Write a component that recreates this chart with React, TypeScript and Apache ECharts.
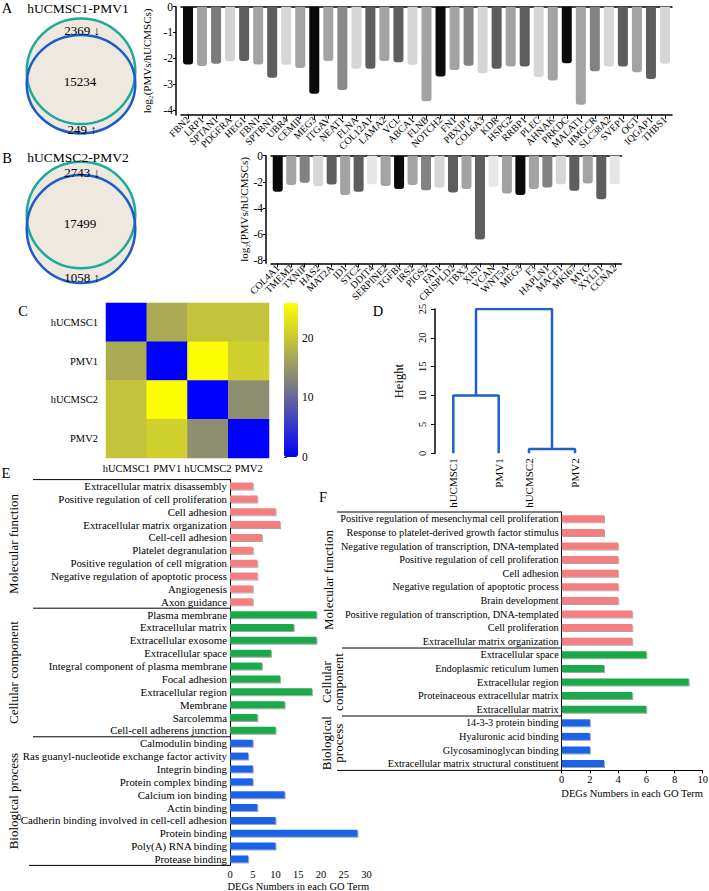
import React, { useEffect, useRef } from "react";
import * as echarts from "echarts";

const FONT = "Liberation Serif";

// ---------- Panel A / B data ----------
const vennA = [2369, 15234, 249];
const vennB = [2743, 17499, 1058];

const genesA = ["FBN2","LRP1","SPTAN1","PDGFRA","HEG1","FBN1","SPTBN1","UBR4","CEMIP","MEG3","ITGAV","NEAT1","FLNA","COL12A1","LAMA2","VCL","ABCA1","FLNB","NOTCH2","FN1","PBXIP1","COL6A3","KDR","HSPG2","RRBP1","PLEC","AHNAK","PRKDC","MALAT1","HMGCR","SLC38A2","SVEP1","OGT","IQGAP1","THBS1"];
const valuesA = [-2.24,-2.3,-2.21,-2.12,-2.11,-2.24,-2.76,-2.25,-2.38,-3.38,-2.11,-3.23,-2.41,-2.41,-2.11,-2.15,-2.25,-3.67,-2.71,-2.45,-2.29,-2.58,-2.41,-2.32,-2.32,-2.73,-2.86,-2.19,-3.8,-2.5,-2.32,-2.32,-2.54,-2.8,-2.21];
const shadesA = ["#0a0a0a","#a3a3a3","#7c7c7c","#d2d2d2","#5e5e5e","#a3a3a3","#5e5e5e","#d6d6d6","#a3a3a3","#0a0a0a","#a3a3a3","#8a8a8a","#d6d6d6","#5e5e5e","#a3a3a3","#5e5e5e","#d6d6d6","#a3a3a3","#0a0a0a","#a3a3a3","#828282","#d6d6d6","#5e5e5e","#a3a3a3","#5e5e5e","#d6d6d6","#a3a3a3","#0a0a0a","#a3a3a3","#828282","#d6d6d6","#5e5e5e","#a3a3a3","#5e5e5e","#d6d6d6"];

const genesB = ["COL4A1","TMEM2","TXNIP","HAS2","MAT2A","ID1","STC2","DDIT4","SERPINE2","TGFBI","IRS2","PIGS2","FAT1","CRISPLD2","TBX3","XIST","VCAN","WNT5A","MEG3","F3","HAPLN1","MACF1","MKI67","MYC","XYLT1","CCNA2"];
const valuesB = [-2.77,-2.25,-2.07,-2.33,-2.2,-3.02,-2.77,-2.18,-2.33,-2.56,-2.25,-2.64,-2.46,-2.82,-2.56,-6.43,-2.38,-2.9,-3.02,-2.56,-2.43,-2.18,-2.69,-2.13,-3.33,-2.18];
const shadesB = ["#0a0a0a","#a3a3a3","#828282","#d6d6d6","#5e5e5e","#a3a3a3","#5e5e5e","#e6e6e6","#a3a3a3","#0a0a0a","#a3a3a3","#828282","#d6d6d6","#5e5e5e","#a3a3a3","#5e5e5e","#e6e6e6","#a3a3a3","#0a0a0a","#a3a3a3","#828282","#d6d6d6","#5e5e5e","#a3a3a3","#5e5e5e","#e6e6e6"];

// ---------- Panel C / D data ----------
const samples = ["hUCMSC1", "PMV1", "hUCMSC2", "PMV2"];
const distRows = [
  [0, 16.9, 19.6, 19.6],
  [16.9, 0, 25.5, 20.8],
  [19.6, 25.5, 0, 13.8],
  [19.6, 20.8, 13.8, 0],
];
const colorbarTicks = [0, 10, 20];
const leafPos = [18.3, 63.7, 94, 140];
const mergeHeights = [10, 0.75, 25];
const heightTicks = [0, 5, 10, 15, 20, 25];

// ---------- Panel E data ----------
const groupNamesE = ["Molecular function", "Cellular component", "Biological process"];
const termsE1 = ["Extracellular matrix disassembly","Positive regulation of cell proliferation","Cell adhesion","Extracellular matrix organization","Cell-cell adhesion","Platelet degranulation","Positive regulation of cell migration","Negative regulation of apoptotic process","Angiogenesis","Axon guidance"];
const countsE1 = [5, 6, 10, 11, 7, 5, 6, 6, 5, 5];
const termsE2 = ["Plasma membrane","Extracellular matrix","Extracellular exosome","Extracellular space","Integral component of plasma membrane","Focal adhesion","Extracellular region","Membrane","Sarcolemma","Cell-cell adherens junction"];
const countsE2 = [19, 14, 19, 9, 7, 11, 18, 12, 6, 10];
const termsE3 = ["Calmodulin binding","Ras guanyl-nucleotide exchange factor activity","Integrin binding","Protein complex binding","Calcium ion binding","Actin binding","Cadherin binding involved in cell-cell adhesion","Protein binding","Poly(A) RNA binding","Protease binding"];
const countsE3 = [5, 4, 5, 5, 12, 6, 10, 28, 10, 4];
const ticksE = [0, 5, 10, 15, 20, 25, 30];

// ---------- Panel F data ----------
const termsF1 = ["Positive regulation of mesenchymal cell proliferation","Response to platelet-derived growth factor stimulus","Negative regulation of transcription, DNA-templated","Positive regulation of cell proliferation","Cell adhesion","Negative regulation of apoptotic process","Brain development","Positive regulation of transcription, DNA-templated","Cell proliferation","Extracellular matrix organization"];
const countsF1 = [3, 3, 4, 4, 4, 4, 4, 5, 5, 5];
const termsF2 = ["Extracellular space","Endoplasmic reticulum lumen","Extracellular region","Proteinaceous extracellular matrix","Extracellular matrix"];
const countsF2 = [6, 3, 9, 5, 6];
const termsF3 = ["14-3-3 protein binding","Hyaluronic acid binding","Glycosaminoglycan binding","Extracellular matrix structural constituent"];
const countsF3 = [2, 2, 2, 3];
const ticksF = [0, 2, 4, 6, 8, 10];

const GROUP_COLORS = ["#f47f80", "#1aa94b", "#1f62e6"];

function buildOption(): any {
  const black = "#000";
  const txt = (s: any) => ({ fontFamily: FONT, color: black, ...s });

  // layout constants
  const gA = { left: 181, top: 6.7, width: 491, height: 108.3 };
  const gB = { left: 271, top: 155.7, width: 350.5, height: 107.6 };
  const gC = { left: 106, top: 303, width: 163, height: 155 };
  const gCb = { left: 284, top: 303, width: 14, height: 154 };
  const gD = { left: 435, top: 309, width: 165, height: 144.3 };
  const rowE = 12.86;
  const gE = { left: 230, top: 479.6, width: 136.5, height: rowE * 30 };
  const rowF = 13.6;
  const gF = { left: 561.7, top: 512, width: 141, height: rowF * 19 };

  const termsE = [...termsE1, ...termsE2, ...termsE3];
  const dataE = [
    ...countsE1.map((v) => ({ value: v, itemStyle: { color: GROUP_COLORS[0] } })),
    ...countsE2.map((v) => ({ value: v, itemStyle: { color: GROUP_COLORS[1] } })),
    ...countsE3.map((v) => ({ value: v, itemStyle: { color: GROUP_COLORS[2] } })),
  ];
  const termsF = [...termsF1, ...termsF2, ...termsF3];
  const dataF = [
    ...countsF1.map((v) => ({ value: v, itemStyle: { color: GROUP_COLORS[0] } })),
    ...countsF2.map((v) => ({ value: v, itemStyle: { color: GROUP_COLORS[1] } })),
    ...countsF3.map((v) => ({ value: v, itemStyle: { color: GROUP_COLORS[2] } })),
  ];

  const heatData: any[] = [];
  distRows.forEach((row, yi) => row.forEach((v, xi) => heatData.push([xi, yi, v])));

  const c0 = (leafPos[0] + leafPos[1]) / 2;
  const c1 = (leafPos[2] + leafPos[3]) / 2;
  const dendroSegs = [
    [[leafPos[0], 0], [leafPos[0], mergeHeights[0]], [leafPos[1], mergeHeights[0]], [leafPos[1], 0]],
    [[leafPos[2], 0], [leafPos[2], mergeHeights[1]], [leafPos[3], mergeHeights[1]], [leafPos[3], 0]],
    [[c0, mergeHeights[0]], [c0, mergeHeights[2]], [c1, mergeHeights[2]], [c1, mergeHeights[1]]],
  ];

  const barShadow = { shadowColor: "rgba(0,0,0,0.35)", shadowBlur: 1, shadowOffsetX: 1, shadowOffsetY: 1 };

  const grids = [gA, gB, gC, gCb, gD, gE, gF].map((g) => ({ ...g, containLabel: false, outerBoundsMode: "none" }));

  const hidden = { axisLine: { show: false }, axisTick: { show: false }, axisLabel: { show: false }, splitLine: { show: false } };

  const barXAxis = (gi: number, data: string[]) => ({
    gridIndex: gi, type: "category", data, position: "bottom",
    axisLine: { onZero: false, lineStyle: { color: black, width: 1.5 } },
    axisTick: { show: true, alignWithLabel: true, length: 4, lineStyle: { color: black } },
    axisLabel: txt({ interval: 0, rotate: 45, fontSize: 10, margin: 3 }),
    splitLine: { show: false },
  });
  const topLine = (gi: number, data: string[]) => ({
    gridIndex: gi, type: "category", data, position: "top",
    axisLine: { show: true, onZero: false, lineStyle: { color: black, width: 1.5 } },
    axisTick: { show: false }, axisLabel: { show: false }, splitLine: { show: false },
  });
  const barYAxis = (gi: number, min: number, ticks: number[]) => ({
    gridIndex: gi, type: "value", min, max: 0, offset: 5,
    axisLine: { show: true, lineStyle: { color: black, width: 1.5 } },
    axisTick: { show: true, length: 3, customValues: ticks, lineStyle: { color: black } },
    axisLabel: txt({ customValues: ticks, fontSize: 11.5, margin: 3 }),
    splitLine: { show: false },
    name: "log₂(PMVs/hUCMSCs)", nameLocation: "middle", nameRotate: 90, nameGap: 17,
    nameTextStyle: txt({ fontSize: 11 }),
  });

  const xAxis: any[] = [
    barXAxis(0, genesA),
    topLine(0, genesA),
    barXAxis(1, genesB),
    topLine(1, genesB),
    {
      gridIndex: 2, type: "category", data: samples,
      axisLine: { show: false }, axisTick: { show: false }, splitLine: { show: false },
      axisLabel: txt({ interval: 0, fontSize: 10.5, margin: 5 }),
    },
    { gridIndex: 3, type: "value", min: 0, max: 1, ...hidden },
    {
      gridIndex: 4, type: "value", min: 0, max: 165,
      axisLine: { show: false }, axisTick: { show: false }, splitLine: { show: false },
      axisLabel: txt({
        customValues: leafPos, rotate: 90, fontSize: 11, margin: 5,
        formatter: (v: number) => {
          let best = 0;
          leafPos.forEach((p, i) => { if (Math.abs(p - v) < Math.abs(leafPos[best] - v)) best = i; });
          return samples[best];
        },
      }),
    },
    {
      gridIndex: 5, type: "value", min: 0, max: 30,
      axisLine: { show: false }, axisTick: { show: false }, splitLine: { show: false },
      axisLabel: txt({ customValues: ticksE, fontSize: 10.5, margin: 4 }),
      name: "DEGs Numbers in each GO Term", nameLocation: "middle", nameGap: 16,
      nameTextStyle: txt({ fontSize: 10.5 }),
    },
    {
      gridIndex: 6, type: "value", min: 0, max: 10,
      axisLine: { show: true, lineStyle: { color: black, width: 1 } },
      axisTick: { show: true, customValues: ticksF, length: 3, lineStyle: { color: black } },
      splitLine: { show: false },
      axisLabel: txt({ customValues: ticksF, fontSize: 10.5, margin: 4 }),
      name: "DEGs Numbers in each GO Term", nameLocation: "middle", nameGap: 18,
      nameTextStyle: txt({ fontSize: 10.5 }),
    },
  ];

  const yAxis: any[] = [
    barYAxis(0, -4.2, [0, -1, -2, -3, -4]),
    barYAxis(1, -8.25, [0, -2, -4, -6, -8]),
    {
      gridIndex: 2, type: "category", data: samples, inverse: true,
      axisLine: { show: false }, axisTick: { show: false }, splitLine: { show: false },
      axisLabel: txt({ fontSize: 10.5, margin: 8 }),
    },
    {
      gridIndex: 3, type: "value", min: 0, max: 25.8, position: "right",
      axisLine: { show: false },
      axisTick: { show: true, customValues: colorbarTicks, length: 3, lineStyle: { color: "#333" } },
      axisLabel: txt({ customValues: colorbarTicks, fontSize: 11.5, margin: 4 }),
      splitLine: { show: false },
    },
    {
      gridIndex: 4, type: "value", min: 0, max: 25,
      axisLine: { show: true, lineStyle: { color: black, width: 1.5 } },
      axisTick: { show: true, customValues: heightTicks, length: 4, lineStyle: { color: black } },
      axisLabel: txt({ customValues: heightTicks, rotate: 90, fontSize: 10.5, margin: 7 }),
      splitLine: { show: false },
      name: "Height", nameLocation: "middle", nameRotate: 90, nameGap: 30,
      nameTextStyle: txt({ fontSize: 12.5 }),
    },
    {
      gridIndex: 5, type: "category", data: termsE, inverse: true,
      axisLine: { show: true, lineStyle: { color: black, width: 1 } },
      axisTick: { show: false }, splitLine: { show: false },
      axisLabel: txt({ interval: 0, fontSize: 10.85, margin: 3 }),
    },
    {
      gridIndex: 6, type: "category", data: termsF, inverse: true,
      axisLine: { show: true, lineStyle: { color: black, width: 1 } },
      axisTick: { show: false }, splitLine: { show: false },
      axisLabel: txt({ interval: 0, fontSize: 10.25, margin: 3 }),
    },
  ];

  const series: any[] = [
    {
      type: "bar", xAxisIndex: 0, yAxisIndex: 0, barWidth: 10,
      data: valuesA.map((v, i) => ({ value: v, itemStyle: { color: shadesA[i] } })),
      itemStyle: { borderRadius: [0, 0, 3, 3] },
    },
    {
      type: "bar", xAxisIndex: 2, yAxisIndex: 1, barWidth: 10,
      data: valuesB.map((v, i) => ({ value: v, itemStyle: { color: shadesB[i] } })),
      itemStyle: { borderRadius: [0, 0, 3, 3] },
    },
    {
      type: "heatmap", xAxisIndex: 4, yAxisIndex: 2, data: heatData,
      itemStyle: { borderWidth: 0 }, emphasis: { disabled: true },
    },
    ...dendroSegs.map((seg) => ({
      type: "line", xAxisIndex: 6, yAxisIndex: 4, data: seg, symbol: "none",
      lineStyle: { color: "#1b62c4", width: 2.5 }, silent: true,
    })),
    {
      type: "bar", xAxisIndex: 7, yAxisIndex: 5, barWidth: 7, data: dataE,
      itemStyle: barShadow,
    },
    {
      type: "bar", xAxisIndex: 8, yAxisIndex: 6, barWidth: 7, data: dataF,
      itemStyle: barShadow,
    },
  ];

  // ---------- graphics: venn, letters, group labels, separators ----------
  const T = (text: string, x: number, y: number, size: number, extra: any = {}) => ({
    type: "text", x, y, silent: true, ...extra,
    style: { text, fontFamily: FONT, fontSize: size, fill: black, align: "center", verticalAlign: "middle", ...(extra.style || {}) },
  });
  const L = (x1: number, y1: number, x2: number, y2: number, w = 1) => ({
    type: "line", silent: true, shape: { x1, y1, x2, y2 }, style: { stroke: black, lineWidth: w },
  });
  const venn = (cy: number, gry: number, bcy: number, bry: number, nums: number[], topY: number, midY: number, botY: number) => [
    { type: "ellipse", silent: true, shape: { cx: 81, cy: bcy, rx: 54.3, ry: bry }, style: { fill: "#eee8df", stroke: "none" } },
    { type: "ellipse", silent: true, shape: { cx: 81, cy, rx: 54.3, ry: gry }, style: { fill: "#eee8df", stroke: "none" } },
    { type: "ellipse", silent: true, shape: { cx: 81, cy, rx: 54.3, ry: gry }, style: { fill: "none", stroke: "#1fa99b", lineWidth: 2.5 } },
    { type: "ellipse", silent: true, shape: { cx: 81, cy: bcy, rx: 54.3, ry: bry }, style: { fill: "none", stroke: "#1a5cc9", lineWidth: 2.5 } },
    T(nums[0] + " ↓", 82, topY, 13),
    T(String(nums[1]), 80, midY, 13),
    T(nums[2] + " ↑", 82, botY, 13),
  ];

  const groupLabelE = (text: string, y: number) => T(text, 13, y, 13, { rotation: Math.PI / 2 });
  const eY = (r: number) => gE.top + r * rowE;
  const fY = (r: number) => gF.top + r * rowF;

  const graphic: any[] = [
    ...venn(71.2, 52.8, 84.2, 49.2, vennA, 30, 81, 129),
    ...venn(215, 53.3, 229, 54, vennB, 172, 223, 277),
    T("A", 7, 8, 14.5), T("hUCMSC1-PMV1", 78, 8, 13.5),
    T("B", 7, 158, 14.5), T("hUCMSC2-PMV2", 78, 157, 13.5),
    T("C", 23, 311, 14.5), T("D", 378, 311, 14.5),
    T("E", 6, 473, 14.5), T("F", 323, 497, 14.5),
    // Panel E frame lines
    L(33, eY(0), gE.left, eY(0)),
    L(33, eY(10), gE.left, eY(10)),
    L(33, eY(20), gE.left, eY(20)),
    L(29, eY(30), gE.left, eY(30)),
    groupLabelE(groupNamesE[0], eY(5)),
    groupLabelE(groupNamesE[1], eY(15)),
    groupLabelE(groupNamesE[2], eY(25)),
    // Panel F frame lines
    L(337, fY(0), gF.left, fY(0)),
    L(342, fY(10), gF.left, fY(10)),
    L(342, fY(15), gF.left, fY(15)),
    L(337, fY(19), gF.left, fY(19)),
    T(groupNamesE[0], 328, fY(5), 13, { rotation: Math.PI / 2 }),
    T("Cellular", 326, fY(12.5), 13, { rotation: Math.PI / 2 }),
    T("component", 338, fY(12.5), 13, { rotation: Math.PI / 2 }),
    T("Biological", 326, fY(17), 13, { rotation: Math.PI / 2 }),
    T("process", 338, fY(17), 13, { rotation: Math.PI / 2 }),
  ];

  return {
    animation: false,
    backgroundColor: "#fff",
    textStyle: { fontFamily: FONT },
    grid: grids,
    xAxis,
    yAxis,
    visualMap: {
      type: "continuous", min: 0, max: 25.8, calculable: false, show: true,
      seriesIndex: 2, orient: "vertical", left: gCb.left, top: gCb.top, padding: 0,
      itemWidth: gCb.width, itemHeight: gCb.height,
      inRange: { color: ["#0000ff", "#85857a", "#ffff00"] },
      textStyle: { fontSize: 1, color: "#fff" },
    },
    series,
    graphic,
  };
}

export default function App() {
  const ref = useRef<HTMLDivElement>(null);
  useEffect(() => {
    document.body.style.margin = "0";
    const chart = echarts.init(ref.current!, null, { renderer: "svg" });
    chart.setOption(buildOption());
    return () => chart.dispose();
  }, []);
  return <div ref={ref} style={{ width: 709, height: 891, background: "#fff" }} />;
}
